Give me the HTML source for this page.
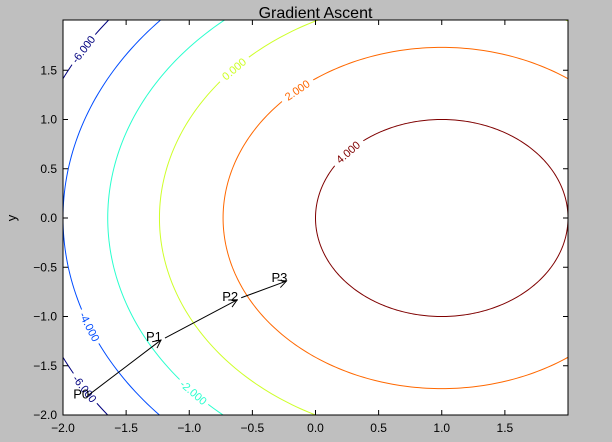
<!DOCTYPE html>
<html><head><meta charset="utf-8"><style>
html,body{margin:0;background:#bfbfbf;overflow:hidden;width:612px;height:442px;}
svg{display:block;font-family:"Liberation Sans","DejaVu Sans",sans-serif;}
</style></head><body>
<svg id="c" width="612" height="442" xmlns="http://www.w3.org/2000/svg"></svg>
<script>
const levels=[-6,-4,-2,0,2,4];
const levelColors=['#00007f','#004cff','#29ffce','#ceff29','#ff6800','#7f0000'];
const labelAngles=[[148.9,-148.5],[-158.4],[-138],[137.4],[131.4],[138]];
const pointNames=['P0','P1','P2','P3'];
const pointX=[-1.8,-1.224,-0.62,-0.23];
const pointY=[-1.8,-1.239,-0.83,-0.64];
const xTicks=[-2.0,-1.5,-1.0,-0.5,0.0,0.5,1.0,1.5];
const yTicks=[-2.0,-1.5,-1.0,-0.5,0.0,0.5,1.0,1.5];

const L=63,R=568,T=20,B=415;
const sx=126.25, sy=98.5;
const X=v=>L+(v+2)*sx, Y=v=>B-(v+2)*sy;
const NS='http://www.w3.org/2000/svg';
const svg=document.getElementById('c');
function mk(tag,attrs,parent){const e=document.createElementNS(NS,tag);for(const k in attrs)e.setAttribute(k,attrs[k]);(parent||svg).appendChild(e);return e;}

const defs=mk('defs',{});
const cp=mk('clipPath',{id:'clip'},defs);
mk('rect',{x:L,y:T,width:R-L,height:B-T},cp);
const mrk=mk('marker',{id:'ah',markerWidth:10,markerHeight:10,refX:9,refY:5,orient:'auto',markerUnits:'userSpaceOnUse'},defs);
mk('path',{d:'M1,1 L9,5 L1,9',fill:'none',stroke:'#000','stroke-width':1},mrk);

const bg=mk('rect',{x:L,y:T,width:R-L,height:B-T,fill:'#fff'});



const g=mk('g',{'clip-path':'url(#clip)'});
levels.forEach((lv,i)=>{
  const r=Math.sqrt(5-lv);
  let d='';
  for(let k=0;k<=360;k++){const t=k*Math.PI/180;d+=(k?'L':'M')+X(1+r*Math.cos(t)).toFixed(2)+','+Y(r*Math.sin(t)).toFixed(2);}
  const p=mk('path',{d:d,fill:'none',stroke:levelColors[i],'stroke-width':1},g);
  
  
});
levels.forEach((lv,i)=>{
  const r=Math.sqrt(5-lv);
  labelAngles[i].forEach(a=>{
    const t=a*Math.PI/180;
    const px=X(1+r*Math.cos(t)), py=Y(r*Math.sin(t));
    const dx=-r*Math.sin(t)*sx, dy=-r*Math.cos(t)*sy;
    let ang=Math.atan2(dy,dx)*180/Math.PI;
    if(ang>90)ang-=180; if(ang<-90)ang+=180;
    const lg=mk('g',{transform:`translate(${px},${py}) rotate(${ang})`},g);
    mk('rect',{x:-19,y:-6,width:38,height:12,fill:'#fff'},lg);
    const tx=mk('text',{x:0,y:4,'text-anchor':'middle','font-size':11,fill:levelColors[i]},lg);
    tx.textContent=lv.toFixed(3);
    
    
  });
});

for(let i=0;i<pointNames.length;i++){
  const px=X(pointX[i]),py=Y(pointY[i]);
  if(i<pointNames.length-1){
    const a=mk('line',{x1:px+(i?4:0),y1:py-(i?2:0),x2:X(pointX[i+1]),y2:Y(pointY[i+1]),stroke:'#000','stroke-width':1,'marker-end':'url(#ah)'});
    
    
  }
  const t=mk('text',{x:px-15,y:py+(i?1:3),'font-size':13,fill:'#000'});
  t.textContent=pointNames[i];
  
  
}

const fr=mk('rect',{x:L,y:T,width:R-L,height:B-T,fill:'none',stroke:'#000','stroke-width':1});


xTicks.forEach(v=>{
  const x=X(v);
  mk('line',{x1:x,y1:B,x2:x,y2:B-5,stroke:'#000'});
  mk('line',{x1:x,y1:T,x2:x,y2:T+5,stroke:'#000'});
  const t=mk('text',{x:x,y:B+17,'text-anchor':'middle','font-size':12});
  t.textContent=(v<0?'\u2212':'')+Math.abs(v).toFixed(1);
  
  
});
yTicks.forEach(v=>{
  const y=Y(v);
  mk('line',{x1:L,y1:y,x2:L+5,y2:y,stroke:'#000'});
  mk('line',{x1:R,y1:y,x2:R-5,y2:y,stroke:'#000'});
  const t=mk('text',{x:L-6,y:y+4,'text-anchor':'end','font-size':12});
  t.textContent=(v<0?'\u2212':'')+Math.abs(v).toFixed(1);
  
  
});
const ti=mk('text',{x:(L+R)/2,y:18,'text-anchor':'middle','font-size':16});
ti.textContent='Gradient Ascent';


const yl=mk('text',{x:16,y:218,'text-anchor':'middle','font-size':13,transform:'rotate(-90 16 218)'});
yl.textContent='y';


</script>
</body></html>
